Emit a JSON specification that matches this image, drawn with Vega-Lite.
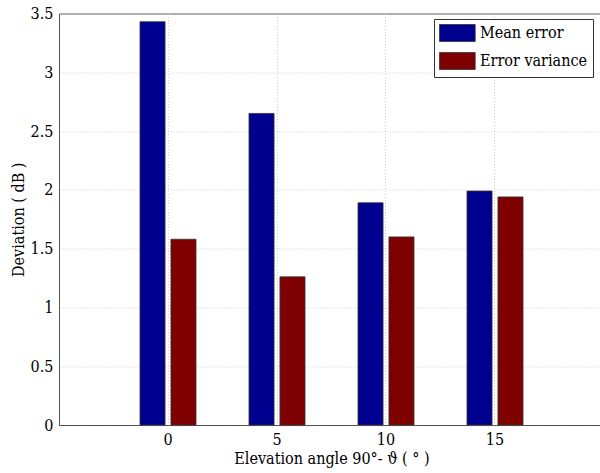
{
  "$schema": "https://vega.github.io/schema/vega-lite/v6.json",
  "width": 545,
  "height": 411.5,
  "autosize": "none",
  "padding": {"left": 59, "top": 13.5, "right": 0, "bottom": 48},
  "background": "white",
  "data": {
    "values": [
      {"angle": 0, "series": "Mean error", "value": 3.43},
      {"angle": 0, "series": "Error variance", "value": 1.58},
      {"angle": 5, "series": "Mean error", "value": 2.65},
      {"angle": 5, "series": "Error variance", "value": 1.26},
      {"angle": 10, "series": "Mean error", "value": 1.89},
      {"angle": 10, "series": "Error variance", "value": 1.6},
      {"angle": 15, "series": "Mean error", "value": 1.99},
      {"angle": 15, "series": "Error variance", "value": 1.94}
    ]
  },
  "mark": {"type": "bar", "stroke": "#333333", "strokeWidth": 0.8},
  "encoding": {
    "x": {
      "field": "angle",
      "type": "ordinal",
      "scale": {"paddingInner": 0.486, "paddingOuter": 0.743},
      "axis": {
        "title": "Elevation angle 90°- ϑ ( ° )",
        "labelAngle": 0,
        "labelPadding": 6,
        "tickSize": 0,
        "titlePadding": 3,
        "grid": true,
        "gridDash": [1, 2],
        "gridColor": "#cfcfcf",
        "domainColor": "#555555",
        "bandPosition": 0.5
      }
    },
    "xOffset": {
      "field": "series",
      "type": "nominal",
      "sort": ["Mean error", "Error variance"],
      "scale": {"paddingInner": 0.19, "paddingOuter": 0}
    },
    "y": {
      "field": "value",
      "type": "quantitative",
      "scale": {"domain": [0, 3.5], "nice": false, "zero": true},
      "axis": {
        "title": "Deviation ( dB )",
        "values": [0, 0.5, 1, 1.5, 2, 2.5, 3, 3.5],
        "format": "~g",
        "tickSize": 0,
        "labelPadding": 6,
        "titlePadding": 4,
        "grid": true,
        "gridDash": [1, 2],
        "gridColor": "#cfcfcf",
        "domainColor": "#555555"
      }
    },
    "color": {
      "field": "series",
      "type": "nominal",
      "sort": ["Mean error", "Error variance"],
      "scale": {"domain": ["Mean error", "Error variance"], "range": ["#00008F", "#7F0000"]},
      "legend": {
        "title": null,
        "orient": "none",
        "legendX": 375,
        "legendY": 5.5,
        "symbolType": "M-1,-1H3.2V1H-1Z",
        "symbolSize": 289,
        "symbolStrokeColor": "#333333",
        "symbolStrokeWidth": 0.8,
        "symbolOpacity": 1,
        "labelFont": "DejaVu Serif Condensed, DejaVu Serif",
        "labelFontSize": 16,
        "labelColor": "black",
        "labelOffset": 23,
        "labelLimit": 200,
        "rowPadding": 6,
        "padding": 5,
        "strokeColor": "#333333",
        "fillColor": "white"
      }
    }
  },
  "config": {
    "font": "DejaVu Serif Condensed, DejaVu Serif",
    "view": {"stroke": "#555555", "strokeWidth": 1},
    "axis": {
      "labelFont": "DejaVu Serif Condensed, DejaVu Serif",
      "labelFontSize": 16,
      "labelColor": "black",
      "titleFont": "DejaVu Serif Condensed, DejaVu Serif",
      "titleFontSize": 16,
      "titleFontWeight": "normal",
      "titleColor": "black"
    }
  }
}
